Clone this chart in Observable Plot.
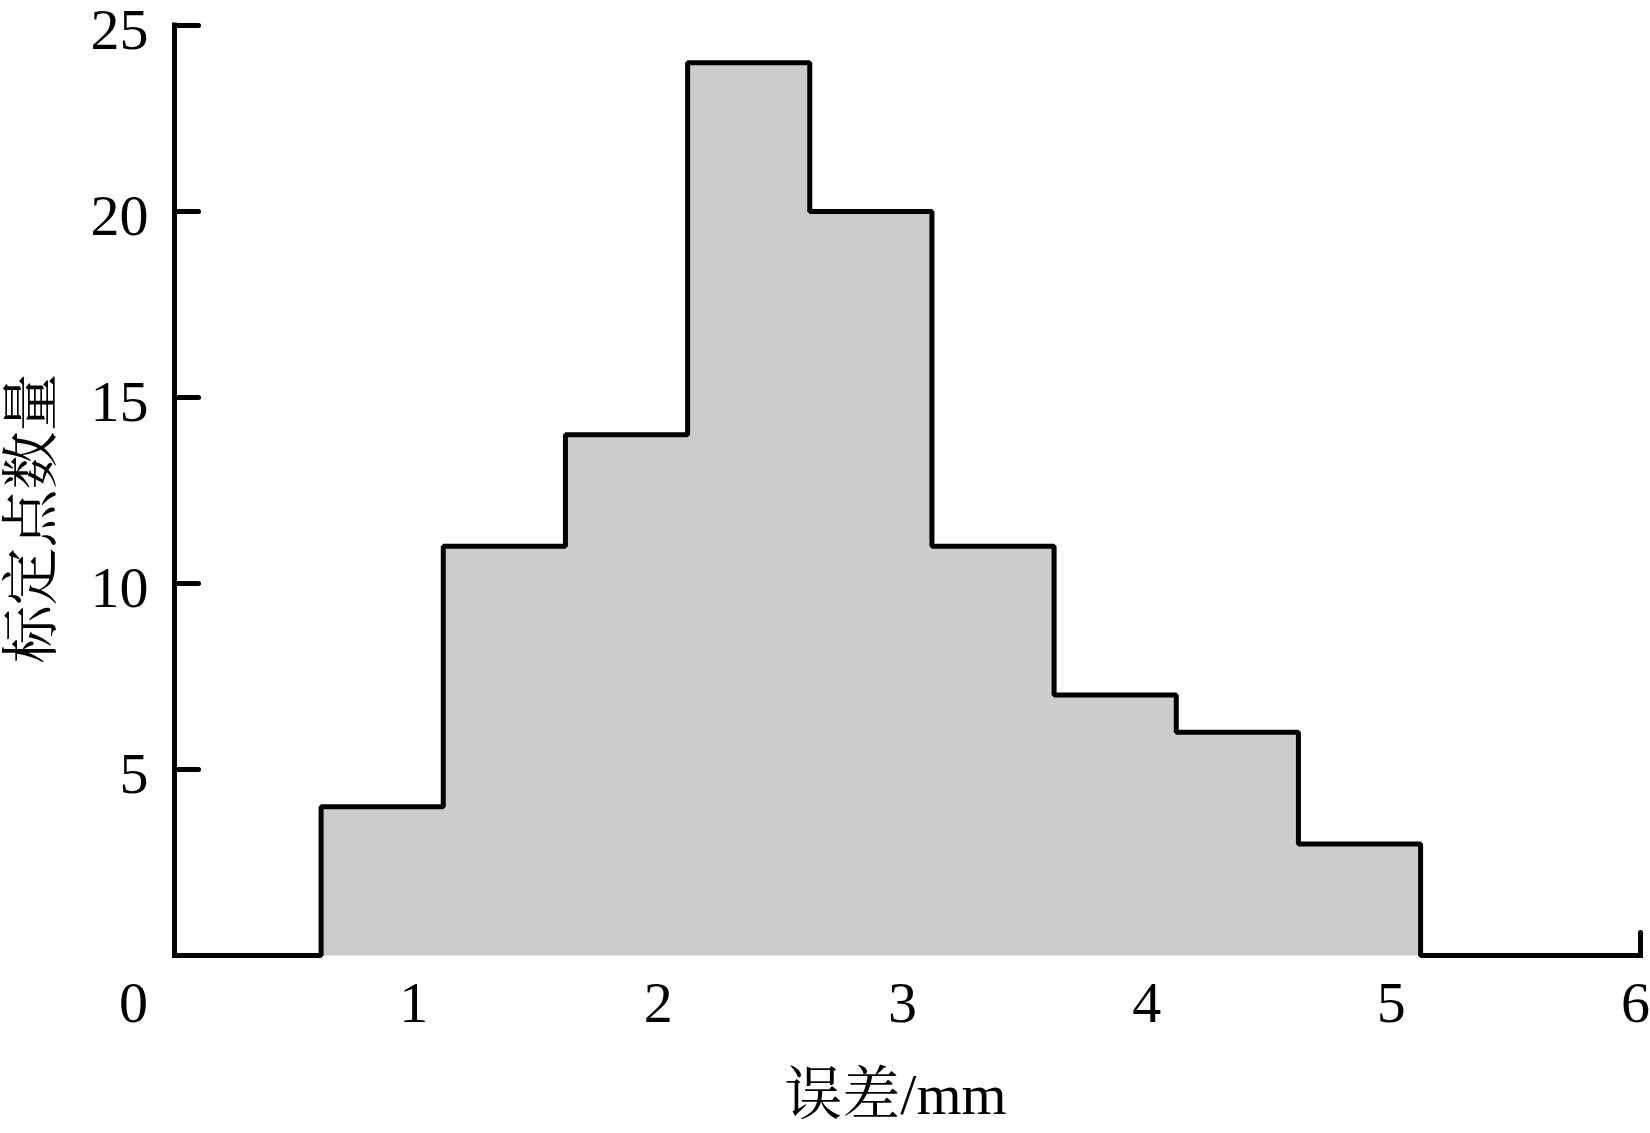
<!DOCTYPE html>
<html>
<head>
<meta charset="utf-8">
<script src="https://cdn.jsdelivr.net/npm/d3@7"></script>
<script src="https://cdn.jsdelivr.net/npm/@observablehq/plot@0.6"></script>
<style>
  html, body { margin: 0; padding: 0; background: #fff; }
  #chart svg { display: block; }
</style>
</head>
<body>
<div id="chart"></div>
<script>
// ---- data ----
const binStart = [0.6, 1.1, 1.6, 2.1, 2.6, 3.1, 3.6, 4.1, 4.6];
const binEnd   = [1.1, 1.6, 2.1, 2.6, 3.1, 3.6, 4.1, 4.6, 5.1];
const counts   = [4, 11, 14, 24, 20, 11, 7, 6, 3];
const xTicks = [0, 1, 2, 3, 4, 5, 6];
const xTickLabels = ["0", "1", "2", "3", "4", "5", "6"];
const yTicks = [5, 10, 15, 20, 25];
const yTickLabels = ["5", "10", "15", "20", "25"];
const xLabel = "误差/mm";
const yLabel = "标定点数量";

const bins = binStart.map((s, i) => ({x1: s, x2: binEnd[i], count: counts[i]}));
const xMin = xTicks[0], xMax = xTicks[xTicks.length - 1];
const outline = [
  {x: xMin, y: 0},
  ...bins.map(b => ({x: b.x1, y: b.count})),
  {x: binEnd[binEnd.length - 1], y: 0},
  {x: xMax, y: 0}
];

const FONT = "'Liberation Serif', 'Times New Roman', 'Noto Serif CJK SC', 'Noto Sans CJK SC', serif";
const SW = 5;
const tickShape = { draw(context, l) { context.moveTo(0, 0); context.lineTo(0, -l); } };

const chart = Plot.plot({
  width: 1650,
  height: 1133,
  marginLeft: 174,
  marginRight: 10,
  marginTop: 25,
  marginBottom: 178,
  style: {fontFamily: FONT, background: "#fff", color: "#000"},
  x: {domain: [xMin, xMax], axis: null},
  y: {domain: [0, 25]},
  marks: [
    Plot.rectY(bins, {x1: "x1", x2: "x2", y: "count", fill: "#cccccc", stroke: "#cccccc", strokeWidth: 1, inset: 0}),
    Plot.line(outline, {x: "x", y: "y", curve: "step-after", stroke: "#000", strokeWidth: SW, strokeLinejoin: "miter", strokeLinecap: "square"}),
    Plot.ruleX([xMin], {y1: 0, y2: 25, stroke: "#000", strokeWidth: SW, strokeLinecap: "square"}),
    // inward y ticks
    Plot.vector(yTicks, {x: xMin, y: d => d, rotate: 90, length: 24, anchor: "start", shape: tickShape, stroke: "#000", strokeWidth: SW}),
    // tick at right end of x axis pointing up
    Plot.vector([xMax], {x: d => d, y: 0, rotate: 0, length: 23, anchor: "start", shape: tickShape, stroke: "#000", strokeWidth: SW}),
    Plot.axisY({ticks: yTicks, tickFormat: (d, i) => yTickLabels[i], tickSize: 0, tickPadding: 26, fontSize: 58, fontFamily: FONT, dy: 5}),
    Plot.text(xTicks.slice(1), {x: d => d, y: 0, text: (d, i) => xTickLabels[i + 1], dy: 48, dx: -5, fontSize: 58, fontFamily: FONT, lineAnchor: "middle"}),
    Plot.text([xTicks[0]], {x: d => d, y: 0, text: () => xTickLabels[0], dy: 48, dx: -41, fontSize: 58, fontFamily: FONT, lineAnchor: "middle"}),
    Plot.text([xLabel], {frameAnchor: "bottom", textAnchor: "middle", text: d => d, dy: 140, dx: -12, fontSize: 58, fontFamily: FONT, lineAnchor: "middle"}),
    Plot.text([yLabel], {frameAnchor: "left", textAnchor: "middle", text: d => d, rotate: -90, dx: -142, dy: 28, fontSize: 58, fontFamily: FONT, lineAnchor: "middle"})
  ]
});
document.getElementById("chart").appendChild(chart);
</script>
</body>
</html>
